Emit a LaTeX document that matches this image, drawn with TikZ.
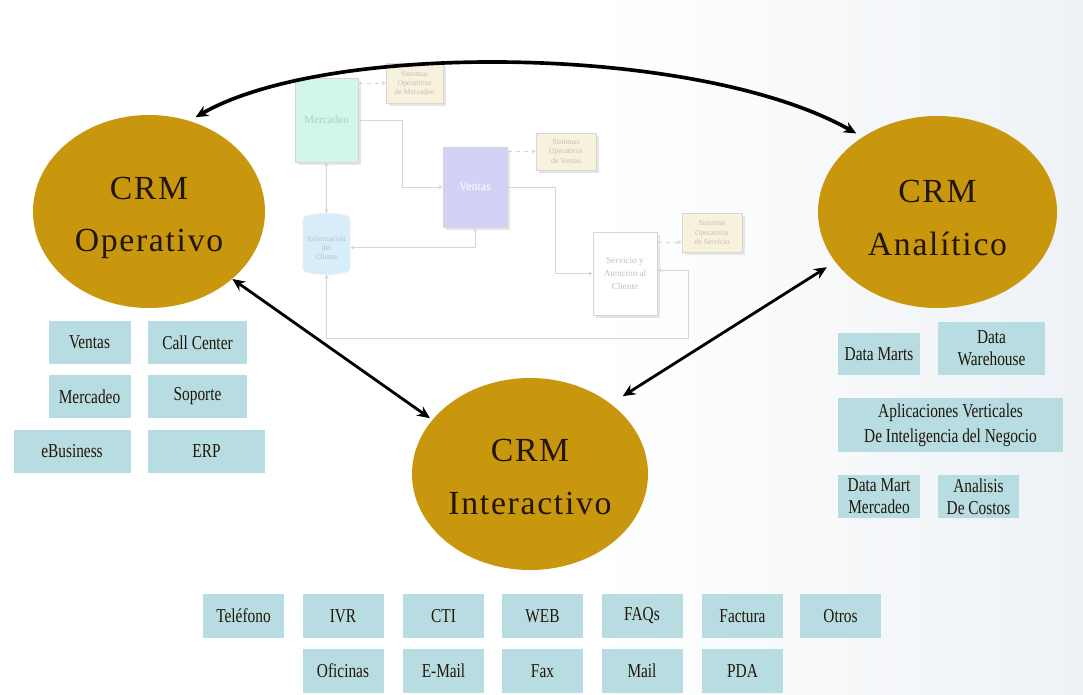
\documentclass[tikz,border=0pt]{standalone}
\usepackage{fontspec}
\setmainfont{Liberation Serif}
\newfontfamily\boxfont[FakeStretch=0.78]{Liberation Serif}
\newfontfamily\ellfont[LetterSpace=5]{Liberation Serif}
\usetikzlibrary{arrows.meta,shapes.geometric,shadows,calc}
\definecolor{gold}{RGB}{201,151,13}
\definecolor{teal}{RGB}{183,221,226}
\definecolor{ink}{RGB}{34,22,8}
\definecolor{fline}{RGB}{214,214,214}
\definecolor{ftext}{RGB}{192,192,192}
\definecolor{mint}{RGB}{210,246,235}
\definecolor{lav}{RGB}{210,210,246}
\definecolor{beige}{RGB}{248,241,219}
\definecolor{sky}{RGB}{216,237,250}
\definecolor{bgr}{RGB}{238,242,246}
\tikzset{
  sz/.style 2 args={minimum width=#1*0.025cm, minimum height=#2*0.025cm},
  tbox/.style={fill=teal, inner sep=0pt, align=center, text=ink,
    font=\boxfont\fontsize{14}{15.5}\selectfont},
  ell/.style={ellipse, fill=gold, inner sep=0pt},
  elltext/.style={inner sep=0pt, align=center, text=ink,
    font=\ellfont\fontsize{24}{37}\selectfont},
  bigarr/.style={line width=2pt, {Stealth[length=9pt,width=8pt]}-{Stealth[length=9pt,width=8pt]}},
  fbox/.style={draw=fline, line width=0.5pt, inner sep=1pt, align=center,
    text=ftext, font=\fontsize{5.5}{6.5}\selectfont,
    drop shadow={shadow xshift=2pt, shadow yshift=-2pt, fill=black!10, opacity=1}},
  fconn/.style={draw=fline, line width=0.7pt, -{Stealth[length=3pt,width=3pt]}},
  fconn2/.style={draw=fline, line width=0.7pt, {Stealth[length=3pt,width=3pt]}-{Stealth[length=3pt,width=3pt]}},
  fdash/.style={draw=fline, line width=0.7pt, dashed, -{Stealth[length=3pt,width=3pt]}},
}
\begin{document}
\begin{tikzpicture}[x=0.025cm,y=-0.025cm]
\useasboundingbox (0,0) rectangle (1083,695);
\fill[white] (0,0) rectangle (1083,695);
\shade[left color=white, right color=bgr] (600,0) rectangle (1083,695);

% faint central diagram
\node[fbox, fill=mint, sz={63}{84}, text={rgb,255:red,172;green,208;blue,198}, font=\fontsize{8}{9}\selectfont] (mk) at (326.5,120) {Mercadeo};
\node[fbox, fill=beige, sz={57}{40}] (b1) at (414.5,83) {Sistemas\\Operativos\\de Mercadeo};
\node[fbox, fill=lav, sz={64}{80}, text=white, font=\fontsize{8.5}{9}\selectfont] (vt) at (475,187) {Ventas};
\node[fbox, fill=beige, sz={60}{37}] (b2) at (566,151.5) {Sistemas\\Operativos\\de Ventas};
\node[fbox, fill=white, sz={64}{83}, font=\fontsize{6.5}{9}\selectfont] (sv) at (625,273.5) {Servicio y\\Atención al\\Cliente};
\node[fbox, fill=beige, sz={60}{39}] (b3) at (712,232.5) {Sistemas\\Operativos\\de Servicio};
\node[cylinder, shape border rotate=90, aspect=0.25, fill=sky, draw=sky!80!gray!40, inner sep=1pt,
  sz={47}{61}, align=center, text=ftext, font=\fontsize{5.5}{6.5}\selectfont] (db) at (326.5,247.5) {Información\\del\\Cliente};

\draw[fdash] (mk.east |- b1.west) -- (b1.west);
\draw[fconn] (mk.east) -- ++(44,0) |- (vt.west);
\draw[fconn2] (mk.south) -- (db.north);
\draw[fconn2] (vt.south) |- (db.east);
\draw[fconn] (vt.east) -- ++(48,0) |- (sv.west);
\draw[fdash] (vt.east |- b2.west) -- (b2.west);
\draw[fdash] (sv.east |- 0,242) -- (b3.west |- 0,242);
\draw[fconn2] (sv.east |- 0,270) -| (688,338) -| (db.south);

% main ellipses
\node[ell, sz={232}{193}] (op) at (149,211.5) {};
\node[elltext] (opt) at (149,218) {CRM\\Operativo};
\node[ell, sz={239}{192}] (an) at (937.5,212) {};
\node[elltext] (ant) at (937.5,218) {CRM\\Analítico};
\node[ell, sz={236}{192}] (in) at (530,474) {};
\node[elltext] (int) at (530,477) {CRM\\Interactivo};

\draw[bigarr, line width=2.6pt, shorten <=5pt, shorten >=5pt] (op.66) .. controls (330,40) and (700,45) .. (an.135);
\draw[bigarr, shorten >=2pt] (op.-39) -- (in.151);
\draw[bigarr, shorten <=10pt, shorten >=7pt] (in.41) -- (an.206);

% CRM Operativo boxes
\node[tbox, sz={82}{43}] (ventas) at (89.5,342.5) {Ventas};
\node[tbox, sz={99}{43}] (call) at (197.5,342.5) {Call Center};
\node[tbox, sz={82}{43}] (merc) at (89.5,396.5) {Mercadeo};
\node[tbox, sz={99}{43}] (sop) at (197.5,396.5) {Soporte};
\node[tbox, sz={117}{43}] (ebus) at (72,451.5) {eBusiness};
\node[tbox, sz={117}{43}] (erp) at (206.5,451.5) {ERP};

% CRM Analitico boxes
\node[tbox, sz={82}{42}] (dm) at (879,354) {Data Marts};
\node[tbox, sz={107}{53}] (dw) at (991.5,348.5) {Data\\Warehouse};
\node[tbox, sz={225}{54}, font=\boxfont\fontsize{14}{17.5}\selectfont] (apl) at (950.5,425) {Aplicaciones Verticales\\De Inteligencia del Negocio};
\node[tbox, sz={82}{43}] (dmm) at (879,496.5) {Data Mart\\Mercadeo};
\node[tbox, sz={81}{43}] (adc) at (978.5,496.5) {Analisis\\De Costos};

% CRM Interactivo boxes
\node[tbox, sz={81}{44}] (tel) at (243.5,616) {Teléfono};
\node[tbox, sz={81}{44}] (ivr) at (343,616) {IVR};
\node[tbox, sz={81}{44}] (cti) at (443.5,616) {CTI};
\node[tbox, sz={81}{44}] (web) at (542.5,616) {WEB};
\node[tbox, sz={81}{44}] (faq) at (642,616) {FAQs};
\node[tbox, sz={81}{44}] (fac) at (742.5,616) {Factura};
\node[tbox, sz={81}{44}] (otr) at (840.5,616) {Otros};
\node[tbox, sz={81}{44}] (ofi) at (343,671) {Oficinas};
\node[tbox, sz={81}{44}] (eml) at (443.5,671) {E-Mail};
\node[tbox, sz={81}{44}] (fax) at (542.5,671) {Fax};
\node[tbox, sz={81}{44}] (mail) at (642,671) {Mail};
\node[tbox, sz={81}{44}] (pda) at (742.5,671) {PDA};
\end{tikzpicture}
\end{document}
